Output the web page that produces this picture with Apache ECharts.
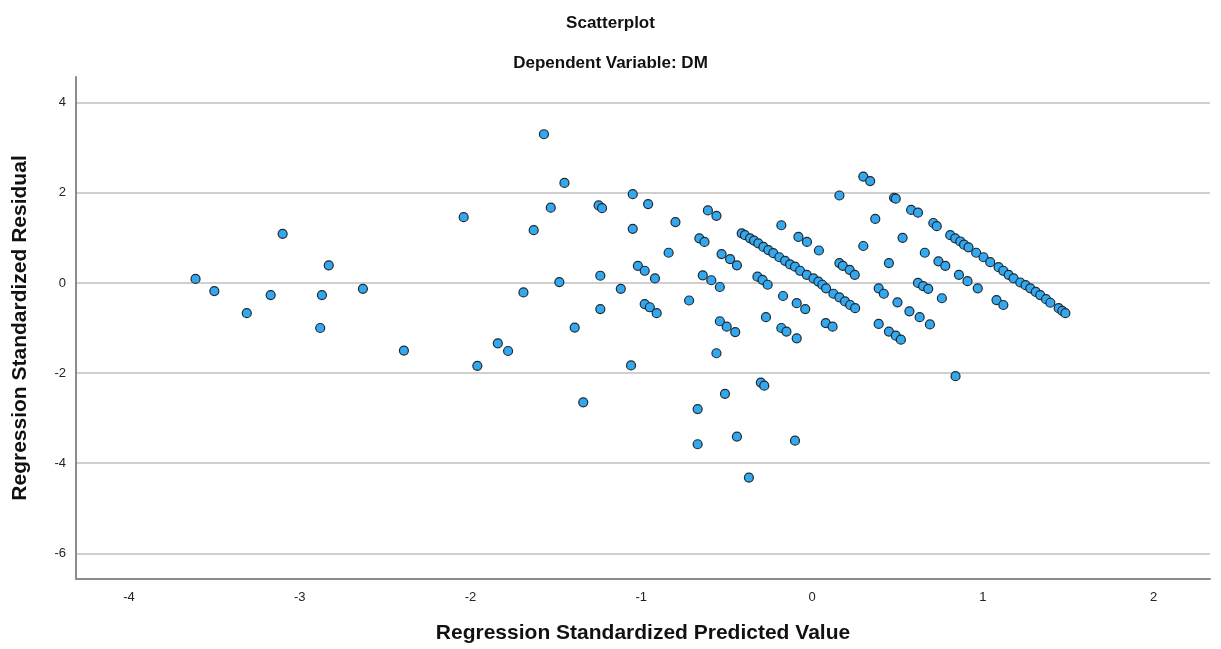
<!DOCTYPE html>
<html>
<head>
<meta charset="utf-8">
<script src="https://cdn.jsdelivr.net/npm/echarts@6/dist/echarts.min.js"></script>
<style>
html,body{margin:0;padding:0;background:#fff;}
#chart{width:1221px;height:649px;}
</style>
</head>
<body>
<div id="chart"></div>
<script>
// Regression Standardized Predicted Value
const predicted = [
  -3.61,-3.50,-3.10,-2.83,-2.63,-2.04,-3.31,-3.17,-2.87,-2.88,-2.39,-1.96,
  -1.57,-1.45,-1.53,-1.63,-1.25,-1.23,-1.05,-0.96,-1.05,-0.80,-0.61,-0.56,
  -0.66,-0.63,-0.84,-0.53,-0.48,-0.44,-1.02,-0.98,-0.92,-1.24,-0.64,-0.59,-0.54,
  -1.48,-1.69,-1.12,-0.72,-0.98,-0.95,-1.24,-0.91,
  -1.39,-1.84,-1.78,-1.06,-0.54,-0.50,-0.45,-0.56,-1.34,-0.51,-0.67,-0.67,-0.44,
  -0.30,-0.28,-0.10,0.84,-0.37,
  0.30,0.34,0.16,0.48,0.49,0.58,0.62,0.37,0.71,0.73,-0.18,0.53,
  -0.08,-0.03,0.04,0.30,0.66,0.45,0.74,0.78,0.86,0.91,0.97,
  0.16,0.18,0.22,0.25,0.62,0.65,0.68,0.76,0.39,0.42,0.50,0.57,0.63,0.69,0.39,0.45,0.49,0.52,
  -0.32,-0.29,-0.26,-0.17,-0.09,-0.04,-0.27,-0.18,-0.15,-0.09,0.08,0.12,1.08,1.12,
  -0.412,-0.393,-0.363,-0.340,-0.315,-0.285,-0.256,-0.227,-0.192,-0.158,-0.129,-0.100,-0.070,-0.031,0.008,0.037,0.060,0.082,0.125,0.160,0.193,0.223,0.252,
  0.809,0.838,0.868,0.890,0.916,0.961,1.004,1.043,1.092,1.120,1.151,1.180,1.219,1.250,1.278,1.310,1.336,1.370,1.395,1.444,1.465,1.483
];
// Regression Standardized Residual
const residual = [
  0.09,-0.18,1.09,0.39,-0.13,1.46,-0.67,-0.27,-0.27,-1.00,-1.50,-1.84,
  3.30,2.22,1.67,1.17,1.72,1.66,1.97,1.75,1.20,1.35,1.61,1.49,
  0.99,0.91,0.67,0.64,0.53,0.39,0.38,0.27,0.10,0.16,0.17,0.06,-0.09,
  0.02,-0.21,-0.13,-0.39,-0.47,-0.54,-0.58,-0.67,
  -0.99,-1.34,-1.51,-1.83,-0.85,-0.97,-1.09,-1.56,-2.65,-2.46,-2.80,-3.58,-3.41,
  -2.21,-2.28,-3.50,-2.07,-4.32,
  2.36,2.26,1.94,1.89,1.87,1.62,1.56,1.42,1.33,1.26,1.28,1.00,
  1.02,0.91,0.72,0.82,0.67,0.44,0.48,0.38,0.18,0.04,-0.12,
  0.44,0.38,0.29,0.18,0.00,-0.07,-0.13,-0.34,-0.12,-0.24,-0.43,-0.63,-0.76,-0.92,-0.91,-1.08,-1.17,-1.26,
  0.14,0.07,-0.04,-0.29,-0.45,-0.58,-0.76,-1.00,-1.08,-1.23,-0.89,-0.97,-0.38,-0.49,
  1.10,1.06,0.99,0.94,0.88,0.80,0.73,0.66,0.57,0.49,0.41,0.36,0.27,0.18,0.10,0.03,-0.04,-0.12,-0.24,-0.32,-0.41,-0.49,-0.56,
  1.06,0.99,0.92,0.85,0.79,0.67,0.57,0.46,0.35,0.27,0.18,0.10,0.01,-0.05,-0.12,-0.20,-0.27,-0.36,-0.44,-0.56,-0.62,-0.67
];
const xTicks = [-4,-3,-2,-1,0,1,2];
const yTicks = [-6,-4,-2,0,2,4];
const titleText = 'Scatterplot';
const subtitleText = 'Dependent Variable: DM';
const xName = 'Regression Standardized Predicted Value';
const yName = 'Regression Standardized Residual';

const points = predicted.map((v, i) => [v, residual[i]]);
const font = '"Liberation Sans", Arial, sans-serif';

const chart = echarts.init(document.getElementById('chart'), null, {renderer: 'canvas'});
chart.setOption({
  animation: false,
  backgroundColor: '#ffffff',
  title: [
    {text: titleText, left: 'center', top: 10, textStyle: {fontFamily: font, fontSize: 17, fontWeight: 'bold', color: '#111'}},
    {text: subtitleText, left: 'center', top: 50, textStyle: {fontFamily: font, fontSize: 17, fontWeight: 'bold', color: '#111'}}
  ],
  grid: {left: 76, right: 11, top: 77, bottom: 70, containLabel: false},
  xAxis: {
    type: 'value', min: -4.31, max: 2.33,
    name: xName, nameLocation: 'middle', nameGap: 44,
    nameTextStyle: {fontFamily: font, fontSize: 21, fontWeight: 'bold', color: '#111'},
    axisLine: {show: true, onZero: false, lineStyle: {color: '#8c8c8c', width: 2}},
    axisTick: {show: false, customValues: xTicks},
    axisLabel: {customValues: xTicks, margin: 12, fontFamily: font, fontSize: 13, color: '#222'},
    splitLine: {show: false}
  },
  yAxis: {
    type: 'value', min: -6.57, max: 4.57,
    name: yName, nameLocation: 'middle', nameGap: 45, nameRotate: 90,
    nameTextStyle: {fontFamily: font, fontSize: 21, fontWeight: 'bold', color: '#111'},
    axisLine: {show: true, onZero: false, lineStyle: {color: '#8c8c8c', width: 2}},
    axisTick: {show: false, customValues: yTicks},
    axisLabel: {customValues: yTicks, margin: 10, fontFamily: font, fontSize: 13, color: '#222'},
    splitLine: {show: true, lineStyle: {color: '#cfcfcf', width: 2}}
  },
  series: [{
    type: 'scatter',
    data: points,
    symbol: 'circle',
    symbolSize: 9,
    itemStyle: {color: '#33a8ef', borderColor: '#1e2a33', borderWidth: 1.2, opacity: 1}
  }]
});
</script>
</body>
</html>
